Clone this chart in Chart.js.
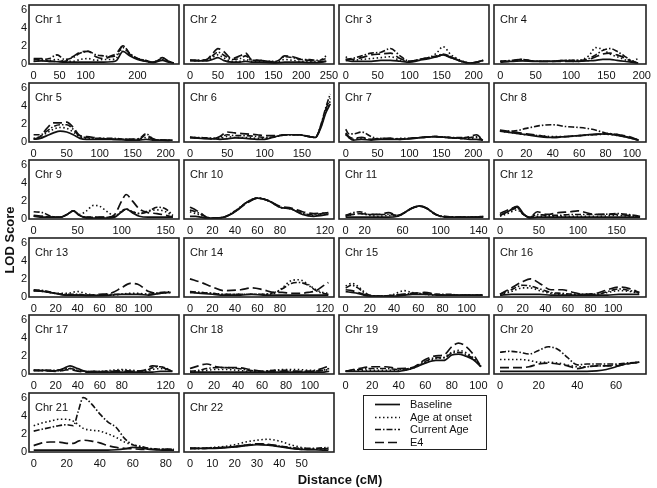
<!DOCTYPE html>
<html>
<head>
<meta charset="utf-8">
<script src="https://cdn.jsdelivr.net/npm/chart.js@4.4.1/dist/chart.umd.min.js"></script>
<style>
  body { margin: 0; background: #fff; width: 657px; height: 488px; position: relative; overflow: hidden;
         font-family: "Liberation Sans", Arial, sans-serif; color: #111; }
  canvas { position: absolute; }
  .chr { position: absolute; font-size: 11px; line-height: 13px; white-space: nowrap; }
  .title { position: absolute; font-size: 13px; font-weight: bold; white-space: nowrap; }
  #legend { position: absolute; left: 363px; top: 395px; width: 122px; height: 53px; border: 1.5px solid #222; }
  #legend .row { position: absolute; left: 0; height: 13px; font-size: 11px; line-height: 13px; }
  #legend svg { position: absolute; left: 11px; top: 0; }
  #legend span { position: absolute; left: 46px; top: 0; white-space: nowrap; }
</style>
</head>
<body>
<script>
const seriesNames = ['Baseline', 'Age at onset', 'Current Age', 'E4'];

// ---- data: position (cM) and LOD score per series ----
const chr1Pos   = [0, 15, 30, 45, 60, 75, 90, 105, 120, 135, 150, 160, 172, 185, 200, 215, 230, 248, 260, 270];
const chr1Base  = [0.3, 0.35, 0.3, 0.25, 0.2, 0.2, 0.2, 0.2, 0.2, 0.2, 0.25, 0.4, 1.4, 0.9, 0.5, 0.3, 0.15, 0.4, 0.2, 0.1];
const chr1Onset = [0.3, 0.4, 0.4, 0.5, 0.3, 0.3, 0.5, 0.6, 0.4, 0.5, 0.5, 0.7, 1.8, 1.0, 0.6, 0.4, 0.2, 0.5, 0.3, 0.1];
const chr1Age   = [0.5, 0.5, 0.6, 1.0, 0.5, 0.7, 1.2, 1.4, 1.0, 0.9, 0.8, 1.0, 2.0, 1.2, 0.6, 0.4, 0.2, 0.6, 0.3, 0.1];
const chr1E4    = [0.6, 0.6, 0.3, 0.3, 0.3, 0.8, 1.3, 1.4, 0.8, 0.6, 0.9, 1.2, 2.0, 1.1, 0.6, 0.3, 0.2, 0.7, 0.3, 0.1];

const chr2Pos   = [0, 15, 30, 40, 50, 60, 75, 90, 100, 110, 125, 140, 155, 170, 185, 200, 215, 230, 245];
const chr2Base  = [0.4, 0.35, 0.35, 0.5, 0.7, 0.4, 0.2, 0.2, 0.3, 0.2, 0.2, 0.15, 0.1, 0.2, 0.2, 0.2, 0.15, 0.15, 0.3];
const chr2Onset = [0.4, 0.35, 0.4, 0.7, 1.0, 0.7, 0.3, 0.3, 0.5, 0.3, 0.3, 0.2, 0.2, 0.5, 0.4, 0.3, 0.3, 0.3, 0.9];
const chr2Age   = [0.4, 0.4, 0.5, 0.9, 1.3, 1.0, 0.5, 0.6, 0.9, 0.4, 0.4, 0.3, 0.3, 0.8, 0.7, 0.5, 0.5, 0.4, 0.6];
const chr2E4    = [0.4, 0.4, 0.5, 1.1, 1.7, 1.4, 0.6, 0.9, 1.2, 0.5, 0.4, 0.3, 0.2, 0.9, 0.8, 0.5, 0.4, 0.3, 0.3];

const chr3Pos   = [0, 10, 25, 40, 55, 70, 85, 100, 115, 130, 142, 152, 165, 180, 195, 205, 215];
const chr3Base  = [0.4, 0.3, 0.3, 0.3, 0.4, 0.4, 0.3, 0.2, 0.4, 0.6, 0.8, 1.0, 0.7, 0.3, 0.1, 0.2, 0.4];
const chr3Onset = [0.8, 0.4, 0.5, 0.6, 0.7, 0.8, 0.4, 0.3, 0.5, 0.7, 1.2, 1.9, 1.0, 0.4, 0.1, 0.2, 0.4];
const chr3Age   = [0.5, 0.6, 0.9, 1.2, 1.3, 1.7, 0.9, 0.3, 0.5, 0.7, 0.9, 1.1, 0.8, 0.3, 0.1, 0.2, 0.4];
const chr3E4    = [0.5, 0.5, 0.7, 1.0, 1.1, 1.2, 0.6, 0.3, 0.5, 0.7, 0.8, 1.0, 0.7, 0.3, 0.1, 0.2, 0.5];

const chr4Pos   = [0, 15, 30, 50, 70, 90, 110, 125, 135, 145, 155, 165, 175, 185, 195];
const chr4Base  = [0.3, 0.3, 0.35, 0.3, 0.3, 0.35, 0.3, 0.35, 0.4, 0.5, 0.5, 0.4, 0.3, 0.2, 0.1];
const chr4Onset = [0.3, 0.3, 0.4, 0.3, 0.3, 0.4, 0.4, 0.9, 1.8, 1.6, 1.1, 0.8, 0.5, 0.3, 0.6];
const chr4Age   = [0.3, 0.4, 0.5, 0.3, 0.3, 0.4, 0.4, 0.6, 1.0, 1.5, 1.7, 1.4, 0.9, 0.4, 0.1];
const chr4E4    = [0.2, 0.3, 0.5, 0.3, 0.3, 0.3, 0.3, 0.5, 0.8, 1.1, 1.2, 1.0, 0.7, 0.3, 0.1];

const chr5Pos   = [0, 10, 20, 30, 40, 50, 60, 70, 80, 100, 120, 140, 160, 170, 180, 195, 210];
const chr5Base  = [0.3, 0.4, 0.7, 1.0, 1.2, 1.1, 0.8, 0.4, 0.3, 0.3, 0.3, 0.2, 0.2, 0.3, 0.2, 0.2, 0.2];
const chr5Onset = [0.4, 0.6, 1.0, 1.4, 1.6, 1.5, 1.1, 0.6, 0.4, 0.3, 0.3, 0.3, 0.3, 0.5, 0.3, 0.2, 0.2];
const chr5Age   = [0.8, 0.8, 1.2, 1.7, 1.9, 1.9, 1.4, 0.6, 0.5, 0.4, 0.4, 0.3, 0.4, 0.9, 0.4, 0.2, 0.2];
const chr5E4    = [0.3, 0.6, 1.5, 2.1, 2.1, 2.2, 1.6, 0.7, 0.6, 0.4, 0.3, 0.3, 0.3, 0.8, 0.3, 0.2, 0.1];

const chr6Pos   = [0, 15, 30, 40, 50, 60, 75, 90, 100, 115, 130, 145, 160, 168, 175, 182, 188];
const chr6Base  = [0.5, 0.4, 0.35, 0.3, 0.35, 0.45, 0.4, 0.3, 0.3, 0.6, 0.8, 0.8, 0.6, 0.5, 1.5, 3.2, 4.2];
const chr6Onset = [0.5, 0.45, 0.4, 0.4, 0.6, 0.5, 0.5, 0.4, 0.4, 0.6, 0.8, 0.8, 0.6, 0.5, 1.6, 3.4, 4.5];
const chr6Age   = [0.5, 0.5, 0.4, 0.5, 0.8, 0.7, 0.7, 0.6, 0.5, 0.6, 0.8, 0.8, 0.6, 0.5, 1.8, 3.8, 5.3];
const chr6E4    = [0.5, 0.45, 0.35, 0.6, 1.1, 1.0, 0.9, 0.8, 0.7, 0.7, 0.8, 0.8, 0.6, 0.5, 1.7, 3.6, 4.8];

const chr7Pos   = [0, 5, 12, 25, 40, 55, 70, 85, 100, 120, 140, 160, 180, 195, 205, 215];
const chr7Base  = [0.9, 0.5, 0.2, 0.3, 0.2, 0.3, 0.3, 0.3, 0.35, 0.5, 0.6, 0.5, 0.4, 0.3, 0.3, 0.2];
const chr7Onset = [0.8, 0.5, 0.3, 0.4, 0.3, 0.4, 0.3, 0.4, 0.4, 0.5, 0.6, 0.5, 0.4, 0.4, 0.5, 0.2];
const chr7Age   = [1.4, 0.9, 0.9, 1.1, 0.6, 0.3, 0.4, 0.3, 0.4, 0.5, 0.6, 0.5, 0.5, 0.5, 0.6, 0.2];
const chr7E4    = [1.0, 0.6, 0.4, 0.5, 0.3, 0.4, 0.4, 0.3, 0.4, 0.5, 0.6, 0.5, 0.4, 0.6, 0.8, 0.2];

const chr8Pos   = [0, 10, 20, 30, 40, 50, 60, 70, 80, 90, 100, 105];
const chr8Base  = [1.2, 1.0, 0.8, 0.6, 0.5, 0.6, 0.7, 0.85, 0.9, 0.7, 0.4, 0.2];
const chr8Onset = [1.2, 1.0, 0.8, 0.7, 0.6, 0.6, 0.7, 0.8, 0.85, 0.7, 0.4, 0.2];
const chr8Age   = [1.2, 1.2, 1.5, 1.8, 1.9, 1.7, 1.6, 1.4, 1.0, 0.8, 0.4, 0.2];
const chr8E4    = [1.3, 1.1, 0.9, 0.7, 0.5, 0.6, 0.7, 0.8, 0.9, 0.8, 0.5, 0.2];

const chr9Pos   = [0, 10, 20, 30, 38, 45, 52, 60, 68, 75, 85, 92, 100, 105, 112, 120, 130, 140, 150, 158];
const chr9Base  = [0.3, 0.2, 0.2, 0.2, 0.5, 0.9, 0.4, 0.1, 0.1, 0.1, 0.1, 0.2, 0.8, 1.1, 0.7, 0.3, 0.2, 0.2, 0.2, 0.2];
const chr9Onset = [0.3, 0.3, 0.2, 0.2, 0.5, 0.9, 0.5, 0.9, 1.5, 1.4, 0.7, 0.3, 0.9, 1.1, 0.8, 0.6, 0.9, 1.0, 0.8, 0.3];
const chr9Age   = [0.8, 0.7, 0.3, 0.2, 0.5, 0.9, 0.4, 0.2, 0.2, 0.2, 0.2, 0.3, 0.8, 1.1, 0.8, 0.6, 0.8, 1.3, 1.1, 0.4];
const chr9E4    = [0.4, 0.3, 0.2, 0.2, 0.5, 0.9, 0.4, 0.2, 0.2, 0.2, 0.2, 0.5, 2.0, 2.7, 2.0, 1.1, 0.7, 0.6, 0.4, 0.2];

const chr10Pos   = [0, 5, 10, 15, 20, 30, 40, 50, 60, 70, 80, 90, 100, 110, 123];
const chr10Base  = [0.3, 0.3, 0.2, 0.1, 0.1, 0.2, 0.8, 1.8, 2.3, 2.0, 1.3, 1.1, 0.5, 0.3, 0.5];
const chr10Onset = [0.8, 0.6, 0.4, 0.1, 0.1, 0.2, 0.8, 1.8, 2.3, 2.0, 1.3, 1.1, 0.6, 0.4, 0.6];
const chr10Age   = [1.0, 0.8, 0.5, 0.2, 0.1, 0.2, 0.9, 1.8, 2.3, 2.0, 1.3, 1.1, 0.6, 0.5, 0.7];
const chr10E4    = [1.3, 1.0, 0.6, 0.2, 0.1, 0.2, 0.8, 1.7, 2.3, 2.0, 1.4, 1.2, 0.8, 0.6, 0.7];

const chr11Pos   = [0, 8, 15, 25, 35, 45, 55, 62, 70, 78, 85, 95, 105, 120, 135, 145];
const chr11Base  = [0.2, 0.2, 0.2, 0.2, 0.2, 0.2, 0.3, 0.7, 1.2, 1.45, 1.2, 0.5, 0.2, 0.2, 0.2, 0.2];
const chr11Onset = [0.3, 0.5, 0.6, 0.4, 0.3, 0.4, 0.3, 0.7, 1.2, 1.45, 1.2, 0.5, 0.2, 0.2, 0.2, 0.2];
const chr11Age   = [0.4, 0.7, 0.8, 0.5, 0.5, 0.5, 0.4, 0.7, 1.2, 1.4, 1.2, 0.5, 0.3, 0.2, 0.2, 0.3];
const chr11E4    = [0.4, 0.5, 0.6, 0.5, 0.5, 0.7, 0.4, 0.7, 1.2, 1.4, 1.2, 0.5, 0.2, 0.2, 0.2, 0.2];

const chr12Pos   = [0, 10, 22, 30, 38, 48, 60, 75, 90, 100, 115, 130, 150, 165, 180];
const chr12Base  = [0.4, 0.8, 1.4, 0.6, 0.1, 0.2, 0.2, 0.2, 0.2, 0.2, 0.2, 0.2, 0.2, 0.2, 0.2];
const chr12Onset = [0.3, 0.6, 1.0, 0.5, 0.2, 0.3, 0.3, 0.3, 0.3, 0.3, 0.3, 0.3, 0.4, 0.3, 0.2];
const chr12Age   = [0.4, 0.8, 1.2, 0.5, 0.2, 0.5, 0.4, 0.4, 0.5, 0.5, 0.5, 0.5, 0.6, 0.5, 0.3];
const chr12E4    = [0.6, 1.0, 1.3, 0.5, 0.2, 0.8, 0.5, 0.7, 0.8, 0.9, 0.6, 0.5, 0.5, 0.4, 0.3];

const chr13Pos   = [0, 10, 20, 30, 40, 50, 60, 70, 80, 88, 95, 105, 115, 125];
const chr13Base  = [0.7, 0.6, 0.4, 0.2, 0.2, 0.15, 0.15, 0.2, 0.3, 0.3, 0.3, 0.2, 0.4, 0.5];
const chr13Onset = [0.7, 0.6, 0.4, 0.4, 0.6, 0.3, 0.2, 0.2, 0.3, 0.4, 0.4, 0.3, 0.4, 0.5];
const chr13Age   = [0.8, 0.7, 0.4, 0.3, 0.3, 0.2, 0.2, 0.3, 0.3, 0.3, 0.3, 0.3, 0.5, 0.6];
const chr13E4    = [0.7, 0.6, 0.4, 0.2, 0.2, 0.2, 0.3, 0.4, 1.0, 1.5, 1.4, 0.6, 0.4, 0.6];

const chr14Pos   = [0, 10, 20, 30, 45, 55, 65, 75, 82, 90, 97, 105, 112, 118, 123];
const chr14Base  = [0.5, 0.4, 0.3, 0.2, 0.2, 0.3, 0.2, 0.2, 0.2, 0.2, 0.2, 0.2, 0.2, 0.2, 0.2];
const chr14Onset = [0.5, 0.5, 0.4, 0.3, 0.3, 0.3, 0.3, 0.4, 1.0, 1.8, 1.9, 1.4, 0.8, 0.5, 0.4];
const chr14Age   = [0.6, 0.5, 0.4, 0.3, 0.3, 0.3, 0.3, 0.5, 0.9, 1.5, 1.6, 1.3, 0.7, 0.4, 0.3];
const chr14E4    = [2.0, 1.6, 1.1, 0.7, 0.8, 1.0, 0.8, 0.5, 0.5, 0.4, 0.4, 0.5, 0.7, 1.2, 1.6];

const chr15Pos   = [0, 5, 10, 15, 20, 30, 40, 48, 55, 65, 75, 85, 95, 105, 113];
const chr15Base  = [0.6, 0.5, 0.4, 0.2, 0.1, 0.1, 0.1, 0.2, 0.3, 0.3, 0.2, 0.2, 0.2, 0.2, 0.2];
const chr15Onset = [1.2, 1.5, 1.2, 0.6, 0.2, 0.1, 0.3, 0.7, 0.5, 0.3, 0.2, 0.2, 0.2, 0.2, 0.2];
const chr15Age   = [1.0, 1.3, 1.0, 0.5, 0.2, 0.1, 0.2, 0.3, 0.4, 0.4, 0.3, 0.3, 0.2, 0.2, 0.2];
const chr15E4    = [0.8, 0.7, 0.5, 0.3, 0.1, 0.1, 0.2, 0.3, 0.4, 0.5, 0.3, 0.2, 0.2, 0.2, 0.2];

const chr16Pos   = [0, 10, 20, 27, 35, 45, 55, 65, 75, 85, 95, 105, 115, 123];
const chr16Base  = [0.2, 0.3, 0.3, 0.3, 0.3, 0.2, 0.2, 0.2, 0.2, 0.2, 0.2, 0.3, 0.3, 0.3];
const chr16Onset = [0.2, 0.6, 1.0, 1.0, 0.7, 0.4, 0.3, 0.3, 0.3, 0.3, 0.5, 0.7, 0.6, 0.4];
const chr16Age   = [0.3, 0.8, 1.3, 1.2, 0.9, 0.5, 0.4, 0.3, 0.3, 0.3, 0.6, 0.9, 0.7, 0.5];
const chr16E4    = [0.3, 1.0, 1.7, 2.0, 1.5, 0.8, 0.8, 0.5, 0.3, 0.4, 0.8, 1.1, 0.9, 0.5];

const chr17Pos   = [0, 10, 20, 27, 33, 40, 50, 60, 70, 80, 90, 100, 108, 115, 126];
const chr17Base  = [0.4, 0.4, 0.35, 0.6, 0.9, 0.6, 0.2, 0.2, 0.2, 0.2, 0.2, 0.2, 0.2, 0.3, 0.3];
const chr17Onset = [0.4, 0.4, 0.35, 0.5, 0.6, 0.4, 0.3, 0.3, 0.4, 0.5, 0.4, 0.3, 0.5, 0.6, 0.3];
const chr17Age   = [0.4, 0.4, 0.4, 0.5, 0.6, 0.4, 0.3, 0.3, 0.3, 0.4, 0.3, 0.3, 0.7, 0.8, 0.3];
const chr17E4    = [0.4, 0.35, 0.3, 0.4, 0.5, 0.3, 0.2, 0.2, 0.3, 0.3, 0.3, 0.4, 0.9, 0.8, 0.3];

const chr18Pos   = [0, 7, 14, 22, 30, 40, 50, 60, 70, 80, 90, 100, 110, 116];
const chr18Base  = [0.2, 0.2, 0.2, 0.2, 0.2, 0.2, 0.2, 0.2, 0.2, 0.2, 0.2, 0.2, 0.2, 0.3];
const chr18Onset = [0.3, 0.3, 0.4, 0.5, 0.5, 0.4, 0.3, 0.3, 0.4, 0.5, 0.5, 0.4, 0.4, 0.5];
const chr18Age   = [0.3, 0.4, 0.6, 0.7, 0.7, 0.6, 0.4, 0.3, 0.4, 0.4, 0.3, 0.3, 0.4, 0.6];
const chr18E4    = [0.6, 0.9, 1.1, 0.8, 0.7, 0.7, 0.5, 0.3, 0.3, 0.3, 0.3, 0.3, 0.6, 0.9];

const chr19Pos   = [0, 10, 20, 30, 40, 50, 60, 68, 74, 80, 85, 90, 96, 102];
const chr19Base  = [0.3, 0.3, 0.3, 0.3, 0.3, 0.6, 1.2, 1.5, 1.5, 2.1, 2.2, 2.0, 1.6, 0.8];
const chr19Onset = [0.3, 0.4, 0.4, 0.4, 0.4, 0.6, 1.3, 1.7, 1.8, 2.4, 2.6, 2.4, 1.8, 0.8];
const chr19Age   = [0.3, 0.5, 0.6, 0.6, 0.5, 0.7, 1.4, 1.8, 1.8, 2.3, 2.4, 2.2, 1.7, 0.8];
const chr19E4    = [0.3, 0.6, 0.8, 0.8, 0.6, 0.7, 1.6, 2.0, 2.1, 3.0, 3.4, 3.1, 2.2, 0.8];

const chr20Pos   = [0, 5, 10, 15, 20, 25, 30, 35, 40, 45, 50, 55, 60, 65, 72];
const chr20Base  = [0.3, 0.3, 0.3, 0.3, 0.3, 0.3, 0.3, 0.3, 0.3, 0.3, 0.35, 0.5, 0.8, 1.1, 1.3];
const chr20Onset = [1.6, 1.6, 1.6, 1.5, 1.3, 1.3, 1.2, 1.0, 0.8, 0.8, 0.9, 0.9, 1.0, 1.1, 1.3];
const chr20Age   = [2.4, 2.5, 2.4, 2.2, 2.6, 3.0, 2.7, 1.8, 1.0, 1.1, 1.1, 1.1, 1.1, 1.2, 1.3];
const chr20E4    = [0.7, 0.7, 0.7, 0.8, 1.1, 1.2, 1.1, 0.9, 0.6, 0.8, 0.9, 0.9, 0.9, 1.1, 1.3];

const chr21Pos   = [0, 5, 10, 15, 20, 24, 27, 30, 35, 40, 45, 50, 55, 60, 65, 70, 78, 85];
const chr21Base  = [0.2, 0.2, 0.2, 0.2, 0.2, 0.2, 0.2, 0.2, 0.2, 0.2, 0.2, 0.25, 0.35, 0.5, 0.45, 0.3, 0.2, 0.2];
const chr21Onset = [2.9, 3.2, 3.4, 3.6, 3.6, 3.4, 3.0, 2.6, 2.4, 2.3, 2.0, 1.6, 1.1, 0.8, 0.6, 0.4, 0.3, 0.3];
const chr21Age   = [2.3, 2.5, 2.7, 2.9, 3.0, 2.9, 4.5, 6.0, 5.3, 4.2, 3.3, 2.7, 1.5, 0.8, 0.6, 0.4, 0.3, 0.3];
const chr21E4    = [0.7, 1.0, 1.1, 1.1, 0.95, 0.95, 1.2, 1.3, 1.2, 1.0, 0.7, 0.5, 0.4, 0.35, 0.3, 0.3, 0.3, 0.3];

const chr22Pos   = [0, 5, 10, 15, 20, 25, 30, 35, 40, 45, 50, 55, 62];
const chr22Base  = [0.4, 0.4, 0.4, 0.45, 0.55, 0.7, 0.8, 0.75, 0.6, 0.4, 0.3, 0.25, 0.2];
const chr22Onset = [0.4, 0.4, 0.5, 0.6, 0.8, 1.1, 1.3, 1.4, 1.2, 0.8, 0.5, 0.3, 0.3];
const chr22Age   = [0.4, 0.4, 0.45, 0.5, 0.6, 0.75, 0.85, 0.8, 0.65, 0.5, 0.4, 0.4, 0.5];
const chr22E4    = [0.4, 0.4, 0.45, 0.5, 0.6, 0.75, 0.9, 0.85, 0.65, 0.45, 0.3, 0.3, 0.4];

// tick labels shown under each panel
const xTicks = [
  [0, 50, 100, 200], [0, 50, 100, 150, 200, 250], [0, 50, 100, 150, 200], [0, 50, 100, 150, 200],
  [0, 50, 100, 150, 200], [0, 50, 100, 150], [0, 50, 100, 150, 200], [0, 20, 40, 60, 80, 100],
  [0, 50, 100, 150], [0, 20, 40, 60, 80, 120], [0, 20, 60, 100, 140], [0, 50, 100, 150],
  [0, 20, 40, 60, 80, 100], [0, 20, 40, 60, 80, 120], [0, 20, 40, 60, 80, 100], [0, 20, 40, 60, 80, 100],
  [0, 20, 40, 60, 80, 120], [0, 20, 40, 60, 80, 100], [0, 20, 40, 60, 80, 100], [0, 20, 40, 60],
  [0, 20, 40, 60, 80], [0, 10, 20, 30, 40, 50],
];
const yTicks = [0, 2, 4, 6];

const chromosomes = [
  ['Chr 1', chr1Pos, chr1Base, chr1Onset, chr1Age, chr1E4, -9, 280],
  ['Chr 2', chr2Pos, chr2Base, chr2Onset, chr2Age, chr2E4, -11, 259],
  ['Chr 3', chr3Pos, chr3Base, chr3Onset, chr3Age, chr3E4, -10.5, 224],
  ['Chr 4', chr4Pos, chr4Base, chr4Onset, chr4Age, chr4E4, -9, 206],
  ['Chr 5', chr5Pos, chr5Base, chr5Onset, chr5Age, chr5E4, -7, 220],
  ['Chr 6', chr6Pos, chr6Base, chr6Onset, chr6Age, chr6E4, -8, 193],
  ['Chr 7', chr7Pos, chr7Base, chr7Onset, chr7Age, chr7E4, -10.5, 224.6],
  ['Chr 8', chr8Pos, chr8Base, chr8Onset, chr8Age, chr8E4, -4.5, 110.6],
  ['Chr 9', chr9Pos, chr9Base, chr9Onset, chr9Age, chr9E4, -5.3, 165],
  ['Chr 10', chr10Pos, chr10Base, chr10Onset, chr10Age, chr10E4, -5.3, 128],
  ['Chr 11', chr11Pos, chr11Base, chr11Onset, chr11Age, chr11E4, -7, 151],
  ['Chr 12', chr12Pos, chr12Base, chr12Onset, chr12Age, chr12E4, -7.7, 187.6],
  ['Chr 13', chr13Pos, chr13Base, chr13Onset, chr13Age, chr13E4, -4.3, 132.6],
  ['Chr 14', chr14Pos, chr14Base, chr14Onset, chr14Age, chr14E4, -5.3, 128],
  ['Chr 15', chr15Pos, chr15Base, chr15Onset, chr15Age, chr15E4, -5.5, 118.4],
  ['Chr 16', chr16Pos, chr16Base, chr16Onset, chr16Age, chr16E4, -5.3, 128.9],
  ['Chr 17', chr17Pos, chr17Base, chr17Onset, chr17Age, chr17E4, -4.3, 132],
  ['Chr 18', chr18Pos, chr18Base, chr18Onset, chr18Age, chr18E4, -5, 120],
  ['Chr 19', chr19Pos, chr19Base, chr19Onset, chr19Age, chr19E4, -5, 108],
  ['Chr 20', chr20Pos, chr20Base, chr20Onset, chr20Age, chr20E4, -3.1, 75.5],
  ['Chr 21', chr21Pos, chr21Base, chr21Onset, chr21Age, chr21E4, -2.85, 88],
  ['Chr 22', chr22Pos, chr22Base, chr22Onset, chr22Age, chr22E4, -2.7, 64.5],
];

// ---- layout ----
const COL_X = [29, 184, 339, 494];
const COL_W = [150, 150, 150, 152];
const ROW_Y = [5, 83, 160, 238, 315, 393];
const BOX_H = 59;
const PAD_X = 16;
const Y_AXIS_W = 14;
const PAD_TOP = 4;
const AXIS_H = 20;
const FONT = '"Liberation Sans", Arial, sans-serif';
const INK = '#111';

const lineStyles = [
  { borderDash: [], borderWidth: 1.7 },
  { borderDash: [1.5, 2.5], borderWidth: 1.6 },
  { borderDash: [6, 2, 1.5, 2], borderWidth: 1.6 },
  { borderDash: [9, 4], borderWidth: 1.7 },
];

const frame = {
  id: 'frame',
  afterDatasetsDraw(chart) {
    const { ctx, chartArea: a } = chart;
    ctx.save();
    ctx.strokeStyle = '#222';
    ctx.lineWidth = 1.6;
    ctx.setLineDash([]);
    ctx.strokeRect(a.left, a.top, a.right - a.left, a.bottom - a.top);
    ctx.restore();
  },
};

chromosomes.forEach(([name, pos, ...rest], i) => {
  const series = rest.slice(0, 4);
  const [xMin, xMax] = rest.slice(4);
  const col = i % 4;
  const row = Math.floor(i / 4);
  const left = COL_X[col];
  const top = ROW_Y[row];
  const w = COL_W[col];
  const showY = col === 0;

  const canvas = document.createElement('canvas');
  const cw = w + 2 * PAD_X;
  const ch = PAD_TOP + BOX_H + AXIS_H;
  canvas.width = cw;
  canvas.height = ch;
  canvas.style.width = cw + 'px';
  canvas.style.height = ch + 'px';
  canvas.style.left = (left - PAD_X) + 'px';
  canvas.style.top = (top - PAD_TOP) + 'px';
  document.body.appendChild(canvas);

  const label = document.createElement('div');
  label.className = 'chr';
  label.textContent = name;
  label.style.left = (left + 6) + 'px';
  label.style.top = (top + 8) + 'px';
  document.body.appendChild(label);

  const ticks = xTicks[i];
  new Chart(canvas, {
    type: 'line',
    data: {
      datasets: series.map((vals, k) => ({
        label: seriesNames[k],
        data: pos.map((x, j) => ({ x, y: vals[j] })),
        borderColor: INK,
        borderWidth: lineStyles[k].borderWidth,
        borderDash: lineStyles[k].borderDash,
        pointRadius: 0,
        tension: 0.3,
        cubicInterpolationMode: 'monotone',
        fill: false,
      })),
    },
    options: {
      responsive: false,
      animation: false,
      devicePixelRatio: 1,
      layout: { padding: { left: showY ? PAD_X - Y_AXIS_W : PAD_X, right: PAD_X, top: PAD_TOP, bottom: 0 } },
      plugins: { legend: { display: false }, tooltip: { enabled: false } },
      scales: {
        x: {
          type: 'linear',
          min: xMin,
          max: xMax,
          grid: { display: false, drawTicks: false },
          border: { display: false },
          afterBuildTicks: (s) => { s.ticks = ticks.map((v) => ({ value: v })); },
          afterFit: (s) => { s.height = AXIS_H; s.paddingLeft = 0; s.paddingRight = 0; },
          ticks: { autoSkip: false, maxRotation: 0, padding: 5, color: INK, font: { family: FONT, size: 11 } },
        },
        y: {
          min: 0,
          max: 6.5,
          display: showY,
          grid: { display: false, drawTicks: false },
          border: { display: false },
          afterBuildTicks: (s) => { s.ticks = yTicks.map((v) => ({ value: v })); },
          afterFit: (s) => { s.width = showY ? Y_AXIS_W : 0; s.paddingTop = 0; s.paddingBottom = 0; },
          ticks: { padding: 2, color: INK, font: { family: FONT, size: 11 } },
        },
      },
    },
    plugins: [frame],
  });
});

// legend
const legend = document.createElement('div');
legend.id = 'legend';
seriesNames.forEach((n, k) => {
  const rowEl = document.createElement('div');
  rowEl.className = 'row';
  rowEl.style.top = (2 + k * 12.6) + 'px';
  const dash = lineStyles[k].borderDash.join(' ');
  rowEl.innerHTML = '<svg width="26" height="13"><line x1="0" y1="6.5" x2="25" y2="6.5" stroke="' + INK +
    '" stroke-width="' + lineStyles[k].borderWidth + '"' + (dash ? ' stroke-dasharray="' + dash + '"' : '') +
    '/></svg><span>' + n + '</span>';
  legend.appendChild(rowEl);
});
document.body.appendChild(legend);

const yTitle = document.createElement('div');
yTitle.className = 'title';
yTitle.textContent = 'LOD Score';
yTitle.style.left = '9px';
yTitle.style.top = '240px';
yTitle.style.transform = 'translate(-50%, -50%) rotate(-90deg)';
document.body.appendChild(yTitle);

const xTitle = document.createElement('div');
xTitle.className = 'title';
xTitle.textContent = 'Distance (cM)';
xTitle.style.left = '340px';
xTitle.style.top = '479px';
xTitle.style.transform = 'translate(-50%, -50%)';
document.body.appendChild(xTitle);
</script>
</body>
</html>
